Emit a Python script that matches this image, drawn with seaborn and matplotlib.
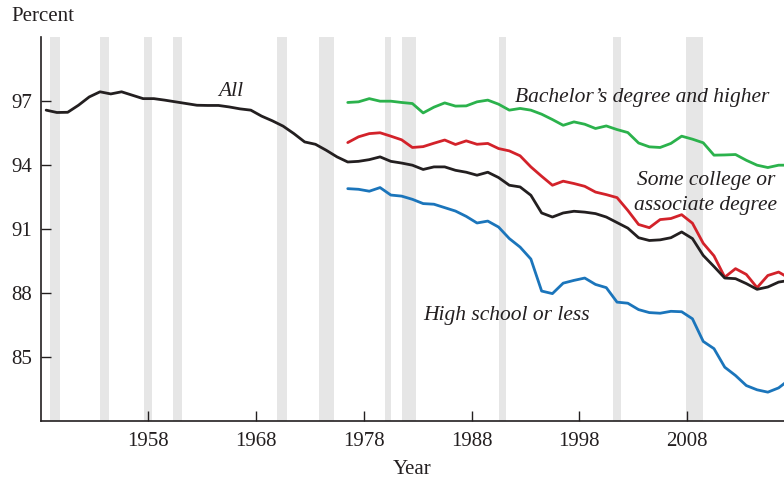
import seaborn as sns
import matplotlib.pyplot as plt
import numpy as np
import pandas as pd

# annual averages, plotted at mid-year
years_all = list(range(1948, 2018))
all_workers = [96.58, 96.47, 96.48, 96.81, 97.20, 97.44, 97.34, 97.44, 97.28, 97.12,
               97.12, 97.05, 96.97, 96.89, 96.81, 96.80, 96.80, 96.73, 96.64, 96.58,
               96.30, 96.08, 95.83, 95.48, 95.09, 94.98, 94.70, 94.39, 94.15, 94.18,
               94.26, 94.39, 94.18, 94.10, 94.00, 93.80, 93.92, 93.92, 93.76, 93.67,
               93.53, 93.67, 93.42, 93.06, 92.98, 92.59, 91.76, 91.57, 91.76, 91.84,
               91.80, 91.73, 91.57, 91.31, 91.05, 90.60, 90.47, 90.50, 90.60, 90.87,
               90.56, 89.77, 89.25, 88.71, 88.68, 88.45, 88.18, 88.29, 88.52, 88.60]

years_edu = list(range(1976, 2018))
bachelors = [96.94, 96.97, 97.12, 97.00, 97.00, 96.94, 96.89, 96.45, 96.72, 96.92,
             96.77, 96.78, 96.97, 97.05, 96.86, 96.58, 96.66, 96.58, 96.39, 96.14,
             95.87, 96.03, 95.92, 95.72, 95.84, 95.67, 95.53, 95.04, 94.86, 94.83,
             95.02, 95.36, 95.22, 95.05, 94.47, 94.48, 94.50, 94.23, 94.00, 93.89,
             94.00, 94.00]
some_college = [95.06, 95.33, 95.48, 95.52, 95.36, 95.19, 94.83, 94.87, 95.03, 95.18,
                94.97, 95.14, 94.98, 95.02, 94.78, 94.67, 94.44, 93.92, 93.48, 93.06,
                93.25, 93.14, 93.01, 92.74, 92.62, 92.48, 91.88, 91.22, 91.07, 91.45,
                91.50, 91.68, 91.28, 90.34, 89.75, 88.75, 89.15, 88.88, 88.26, 88.83,
                88.99, 88.70]
high_school = [92.90, 92.87, 92.78, 92.95, 92.60, 92.55, 92.40, 92.20, 92.17, 92.01,
               91.85, 91.60, 91.29, 91.38, 91.10, 90.56, 90.16, 89.60, 88.10, 87.98,
               88.47, 88.60, 88.71, 88.41, 88.26, 87.58, 87.53, 87.23, 87.09, 87.06,
               87.15, 87.13, 86.80, 85.74, 85.40, 84.53, 84.14, 83.67, 83.47, 83.36,
               83.56, 83.95]

# recessions (start, end) in decimal years
recessions = [(1948.83, 1949.80), (1953.50, 1954.38), (1957.58, 1958.30),
              (1960.25, 1961.12), (1969.92, 1970.87), (1973.83, 1975.20),
              (1980.00, 1980.50), (1981.50, 1982.87), (1990.50, 1991.22),
              (2001.17, 2001.87), (2007.92, 2009.45)]

df_all = pd.DataFrame({"Year": years_all, "Percent": all_workers, "Group": "All"})
df_edu = pd.concat([
    pd.DataFrame({"Year": years_edu, "Percent": bachelors, "Group": "Bachelor"}),
    pd.DataFrame({"Year": years_edu, "Percent": some_college, "Group": "Some college"}),
    pd.DataFrame({"Year": years_edu, "Percent": high_school, "Group": "High school"}),
])
df = pd.concat([df_all, df_edu], ignore_index=True)
df["Mid"] = df["Year"] + 0.5

palette = {"All": "#231f20", "Bachelor": "#2bb24c", "Some college": "#d3222a",
           "High school": "#1b75bb"}

sns.set_theme(style="ticks")
plt.rcParams['font.family'] = ['Liberation Serif', 'DejaVu Serif']

fig = plt.figure(figsize=(7.84, 4.83), dpi=100)
ax = fig.add_axes([0.052, 0.128, 0.948, 0.795])

for start, end in recessions:
    ax.axvspan(start, end, color="#e6e6e6", lw=0, zorder=0)

sns.lineplot(data=df, x="Mid", y="Percent", hue="Group", palette=palette,
             hue_order=["High school", "Some college", "Bachelor", "All"],
             linewidth=2.0, legend=False, ax=ax)

ax.set_xlim(1948, 2017)
ax.set_ylim(82, 100)
ax.set_xticks([1958, 1968, 1978, 1988, 1998, 2008])
ax.set_yticks([85, 88, 91, 94, 97])
ax.tick_params(direction="in", length=7, width=1, labelsize=15, colors="#231f20")
ax.tick_params(axis="x", pad=8)
ax.tick_params(axis="y", pad=6)
sns.despine(ax=ax, top=True, right=True)
for s in ["left", "bottom"]:
    ax.spines[s].set_linewidth(1.2)
    ax.spines[s].set_color("#231f20")

ax.set_xlabel("Year", fontsize=15, color="#231f20", labelpad=6)
ax.set_ylabel("")
fig.text(0.015, 0.966, "Percent", fontsize=15, color="#231f20", va="center", ha="left")

lab = dict(fontsize=15.5, style="italic", color="#231f20")
ax.text(1965.65, 97.45, "All", ha="center", va="center", **lab)
ax.text(2003.85, 97.16, "Bachelor’s degree and higher", ha="center", va="center", **lab)
ax.text(2009.75, 93.26, "Some college or", ha="center", va="center", **lab)
ax.text(2009.75, 92.11, "associate degree", ha="center", va="center", **lab)
ax.text(1991.2, 86.96, "High school or less", ha="center", va="center", **lab)

fig.savefig("out.png", dpi=100)
